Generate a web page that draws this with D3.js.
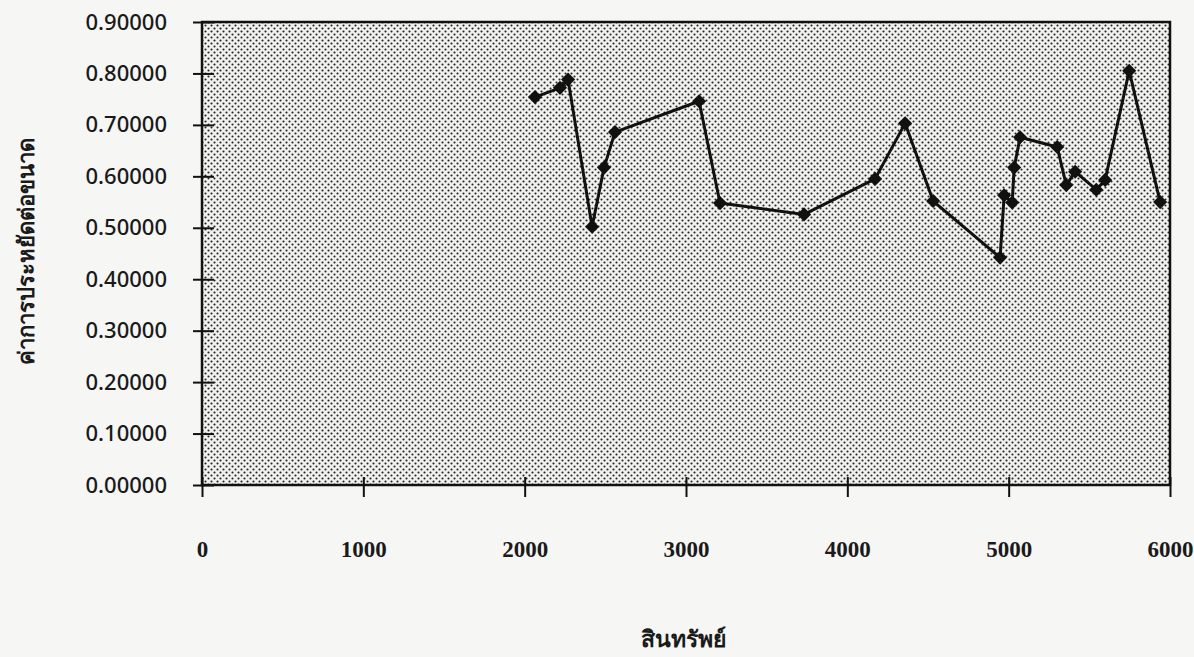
<html lang="th">
  <head>
    <meta charset="utf-8">
    <title>Economies of scale vs assets</title>
    <script src="https://d3js.org/d3.v7.min.js"></script>
    <style>
    body { margin: 0; background: #f6f6f4; }
    .ytick text { font: 500 22px "Noto Sans", sans-serif; fill: #1a1a1a; }
    .xtick text { font: bold 23px "Liberation Serif", serif; fill: #1a1a1a; }
    .title { font-weight: bold; fill: #1a1a1a; }
    </style>
  </head>
  <body>
    <svg id="chart"></svg>
    <script>
      // asset size (x) and economies-of-scale value (y)
      var assets = [2064, 2219, 2269, 2418, 2492, 2560, 3081, 3211, 3732, 4172, 4358, 4532,
                    4947, 4972, 5022, 5034, 5071, 5301, 5357, 5412, 5543, 5598, 5747, 5939];
      var scaleValues = [0.754, 0.772, 0.788, 0.502, 0.617, 0.686, 0.746, 0.548, 0.526, 0.595, 0.703, 0.552,
                         0.442, 0.563, 0.549, 0.617, 0.676, 0.657, 0.583, 0.609, 0.574, 0.593, 0.805, 0.550];
      var xTicks = [0, 1000, 2000, 3000, 4000, 5000, 6000];
      var yTicks = [0, 0.1, 0.2, 0.3, 0.4, 0.5, 0.6, 0.7, 0.8, 0.9];

      var W = 1194, H = 657;
      var plotL = 202, plotR = 1170, plotT = 22, plotB = 485;

      var svg = d3.select("#chart").attr("width", W).attr("height", H);

      var x = d3.scaleLinear().domain([0, 6000]).range([plotL, plotR]);
      var y = d3.scaleLinear().domain([0, 0.9]).range([plotB, plotT]);

      // halftone dot fill of the plot area
      var pat = svg.append("defs").append("pattern")
        .attr("id", "dots").attr("patternUnits", "userSpaceOnUse")
        .attr("width", 6).attr("height", 6);
      pat.append("rect").attr("width", 6).attr("height", 6).attr("fill", "#f0f0ee");
      pat.append("circle").attr("cx", 1.5).attr("cy", 1.5).attr("r", 1.05).attr("fill", "#222");
      pat.append("circle").attr("cx", 4.5).attr("cy", 4.5).attr("r", 1.05).attr("fill", "#222");

      svg.append("rect")
        .attr("x", plotL).attr("y", plotT)
        .attr("width", plotR - plotL).attr("height", plotB - plotT)
        .attr("fill", "url(#dots)")
        .attr("stroke", "#111").attr("stroke-width", 2.5);

      // y axis
      var yg = svg.append("g").attr("class", "ytick")
        .attr("transform", "translate(" + plotL + ",0)")
        .call(d3.axisLeft(y).tickValues(yTicks).tickFormat(d3.format(".5f")).tickSize(9).tickPadding(26));
      yg.select(".domain").remove();
      yg.selectAll("line").attr("x2", -9).attr("x1", 12).attr("stroke", "#111").attr("stroke-width", 2);

      // x axis
      var xg = svg.append("g").attr("class", "xtick")
        .attr("transform", "translate(0," + plotB + ")")
        .call(d3.axisBottom(x).tickValues(xTicks).tickFormat(d3.format("d")).tickSize(12).tickPadding(44));
      xg.select(".domain").remove();
      xg.selectAll("line").attr("y1", -8).attr("y2", 12).attr("stroke", "#111").attr("stroke-width", 2);

      var pts = assets.map(function(a, i) { return [a, scaleValues[i]]; });

      svg.append("path")
        .datum(pts)
        .attr("fill", "none")
        .attr("stroke", "#111")
        .attr("stroke-width", 3)
        .attr("stroke-linejoin", "round")
        .attr("d", d3.line().x(function(d) { return x(d[0]); }).y(function(d) { return y(d[1]); }));

      // square markers turned 45 degrees, as in the Excel diamond
      svg.selectAll(".pt")
        .data(pts)
        .enter().append("path")
        .attr("class", "pt")
        .attr("transform", function(d) { return "translate(" + x(d[0]) + "," + y(d[1]) + ") rotate(45)"; })
        .attr("d", d3.symbol().type(d3.symbolSquare).size(100))
        .attr("fill", "#111");

      svg.append("text").attr("class", "title")
        .attr("x", 683).attr("y", 647)
        .attr("text-anchor", "middle")
        .style("font-size", "23px")
        .text("สินทรัพย์");

      svg.append("text").attr("class", "title")
        .attr("transform", "translate(34,251) rotate(-90)")
        .attr("text-anchor", "middle")
        .style("font-size", "22px")
        .text("ค่าการประหยัดต่อขนาด");
    </script>
  </body>
</html>
